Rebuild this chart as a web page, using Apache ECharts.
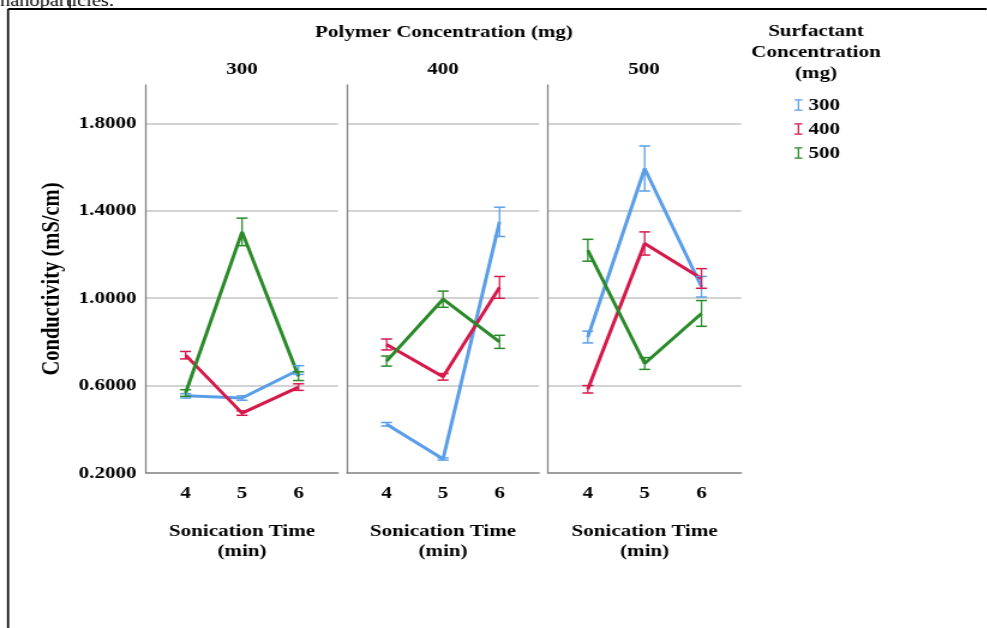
<!DOCTYPE html>
<html style="height: 100%">
<head>
    <meta charset="UTF-8">
    <script type="text/javascript" src="https://cdn.jsdelivr.net/npm/echarts@6/dist/echarts.min.js"></script>
    <style type="text/css">
        body {margin:0; padding:0; overflow:hidden; height:100%; background:#fff}
        /* the source picture is a bit wider than tall, so the chart is drawn narrow and stretched */
        #container {width:822.5px; height:628px; transform:scaleX(1.2); transform-origin:0 0}
    </style>
</head>
<body>
    <div id="container"></div>
<script>
    // sonication time (min) and group labels
    var times = [4, 5, 6];
    var polymer = ['300', '400', '500'];
    var surfactant = ['300', '400', '500'];
    var yTicks = [0.2, 0.6, 1.0, 1.4, 1.8];

    // means: one row per surfactant concentration (300, 400, 500)
    var meanP300 = [[0.553, 0.543, 0.671], [0.739, 0.474, 0.593], [0.566, 1.303, 0.643]];
    var meanP400 = [[0.423, 0.264, 1.349], [0.788, 0.640, 1.049], [0.712, 0.995, 0.800]];
    var meanP500 = [[0.822, 1.593, 1.052], [0.583, 1.250, 1.090], [1.219, 0.701, 0.930]];

    // error bar half-widths
    var errP300 = [[0.010, 0.010, 0.020], [0.017, 0.010, 0.015], [0.015, 0.063, 0.020]];
    var errP400 = [[0.008, 0.005, 0.067], [0.025, 0.015, 0.050], [0.023, 0.037, 0.030]];
    var errP500 = [[0.027, 0.103, 0.047], [0.017, 0.053, 0.045], [0.050, 0.027, 0.059]];

    var means = [meanP300, meanP400, meanP500];
    var errs = [errP300, errP400, errP500];

    var colors = ['#5b9ee8', '#d6194b', '#2a8a2a'];
    var serif = 'Liberation Serif';
    var fs = 17.5;
    var gridLeft = [121.7, 289.2, 456.7];
    var gridW = 160;

    var myChart = echarts.init(document.getElementById('container'));

    var grids = [], xAxes = [], yAxes = [], titles = [], series = [];
    for (var p = 0; p < 3; p++) {
        grids.push({left: gridLeft[p], top: 85, width: gridW + (p == 2 ? 1 : 0), height: 388});
        xAxes.push({
            type: 'value', gridIndex: p, min: 3.3, max: 6.7,
            name: 'Sonication Time\n(min)', nameLocation: 'middle', nameGap: 48,
            nameTextStyle: {fontFamily: serif, fontWeight: 'bold', fontSize: fs, color: '#000', lineHeight: 20},
            axisLine: {lineStyle: {color: '#808080', width: 1.5}},
            axisTick: {show: false},
            splitLine: {show: false},
            axisLabel: {customValues: times, margin: 11, fontFamily: serif, fontWeight: 'bold', fontSize: fs, color: '#000'}
        });
        yAxes.push({
            type: 'value', gridIndex: p, min: 0.2, max: 1.975, interval: 0.4,
            name: p == 0 ? 'Conductivity (mS/cm)' : '', nameLocation: 'middle', nameGap: 67,
            nameTextStyle: {fontFamily: serif, fontWeight: 'bold', fontSize: 20.5, color: '#000'},
            axisLine: {show: true, lineStyle: {color: '#808080', width: 1.3}},
            axisTick: {show: false},
            splitLine: {show: true, showMinLine: false, showMaxLine: false, lineStyle: {color: '#c4c4c4', width: 1.5}},
            axisLabel: {
                show: p == 0, margin: 8,
                customValues: yTicks,
                fontFamily: serif, fontWeight: 'bold', fontSize: fs, color: '#000',
                formatter: function (v) { return v.toFixed(4); }
            }
        });
        titles.push({
            text: polymer[p], left: gridLeft[p] + gridW / 2, top: 59, textAlign: 'center', padding: 0,
            textStyle: {fontFamily: serif, fontWeight: 'bold', fontSize: fs, color: '#000', lineHeight: 20}
        });
        for (var s = 0; s < 3; s++) {
            var pts = [], bars = [];
            for (var t = 0; t < 3; t++) {
                pts.push([times[t], means[p][s][t]]);
                bars.push([times[t], means[p][s][t] - errs[p][s][t], means[p][s][t] + errs[p][s][t]]);
            }
            series.push({
                name: surfactant[s], type: 'line', xAxisIndex: p, yAxisIndex: p,
                data: pts, symbol: 'none', color: colors[s],
                lineStyle: {width: 3, color: colors[s]}, z: 3
            });
            series.push({
                name: surfactant[s], type: 'custom', xAxisIndex: p, yAxisIndex: p,
                data: bars, encode: {x: 0, y: [1, 2]}, z: 4, color: colors[s],
                renderItem: (function (c) {
                    return function (params, api) {
                        var x = api.value(0);
                        var lo = api.coord([x, api.value(1)]);
                        var hi = api.coord([x, api.value(2)]);
                        var w = 4.6;
                        var st = {stroke: c, lineWidth: 1.5};
                        return {
                            type: 'group',
                            children: [
                                {type: 'line', shape: {x1: hi[0], y1: hi[1], x2: lo[0], y2: lo[1]}, style: {stroke: c, lineWidth: 1.3}},
                                {type: 'line', shape: {x1: hi[0] - w, y1: hi[1], x2: hi[0] + w, y2: hi[1]}, style: st},
                                {type: 'line', shape: {x1: lo[0] - w, y1: lo[1], x2: lo[0] + w, y2: lo[1]}, style: st}
                            ]
                        };
                    };
                })(colors[s])
            });
        }
    }

    titles.push({
        text: 'Polymer Concentration (mg)', left: 370, top: 22, textAlign: 'center', padding: 0,
        textStyle: {fontFamily: serif, fontWeight: 'bold', fontSize: fs, color: '#000', lineHeight: 20}
    });
    titles.push({
        text: 'Surfactant\nConcentration\n(mg)', left: 680, top: 21, textAlign: 'center', padding: 0,
        textStyle: {fontFamily: serif, fontWeight: 'bold', fontSize: fs, color: '#000', lineHeight: 21}
    });

    var ibeam = 'path://M0,0H8V1.5H4.75V12.5H8V14H0V12.5H3.25V1.5H0Z';

    var option = {
        animation: false,
        title: titles,
        grid: grids,
        xAxis: xAxes,
        yAxis: yAxes,
        legend: {
            orient: 'vertical', left: 657, top: 90,
            data: surfactant.map(function (n) { return {name: n, icon: ibeam}; }),
            itemWidth: 6.7, itemHeight: 14, itemGap: 4,
            itemStyle: {borderWidth: 0},
            textStyle: {fontFamily: serif, fontWeight: 'bold', fontSize: fs, color: '#000', lineHeight: 20}
        },
        graphic: [
            {type: 'line', shape: {x1: 6.7, y1: 9, x2: 822.5, y2: 9}, style: {stroke: '#000', lineWidth: 2}},
            {type: 'line', shape: {x1: 6.7, y1: 9, x2: 6.7, y2: 628}, style: {stroke: '#000', lineWidth: 1.7}},
            {type: 'line', shape: {x1: 58.3, y1: 0, x2: 58.3, y2: 9}, style: {stroke: '#000', lineWidth: 1.3}},
            {type: 'text', style: {x: 0, y: 10, text: 'nanoparticles.', font: '17px "Liberation Serif"', fill: '#000', verticalAlign: 'bottom'}}
        ],
        series: series
    };
    myChart.setOption(option);
</script>
</body>
</html>
